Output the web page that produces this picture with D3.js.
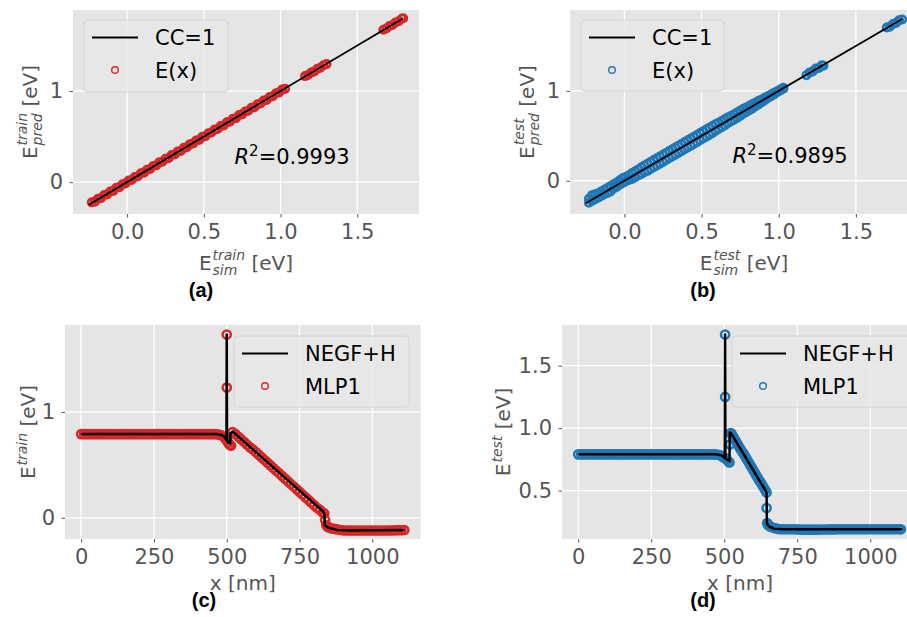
<!DOCTYPE html>
<html>
<head>
<meta charset="utf-8">
<script src="https://cdn.jsdelivr.net/npm/d3@7"></script>
<style>
  body { margin: 0; background: #fff; }
  svg { display: block; font-family: "DejaVu Sans", sans-serif; }
</style>
</head>
<body>
<div id="root"></div>
<script>
// ---- data ----
const trainSim = [-0.23,-0.21,-0.19,-0.17,-0.15,-0.13,-0.11,-0.09,-0.07,-0.05,-0.03,-0.01,0.01,0.03,0.05,0.07,0.09,0.11,0.13,0.15,0.17,0.19,0.21,0.23,0.25,0.27,0.29,0.31,0.33,0.35,0.37,0.39,0.41,0.43,0.45,0.47,0.49,0.51,0.53,0.55,0.57,0.59,0.61,0.63,0.65,0.67,0.69,0.71,0.73,0.75,0.77,0.79,0.81,0.83,0.85,0.87,0.89,0.91,0.93,0.95,0.97,0.99,1.01,1.03,1.16,1.18,1.2,1.22,1.24,1.26,1.28,1.3,1.67,1.69,1.71,1.73,1.75,1.77,1.79,1.8];
const trainPred = [-0.222,-0.216,-0.183,-0.176,-0.142,-0.136,-0.103,-0.096,-0.062,-0.057,-0.024,-0.016,0.018,0.024,0.057,0.064,0.097,0.104,0.137,0.144,0.177,0.184,0.217,0.224,0.257,0.263,0.297,0.304,0.337,0.343,0.377,0.384,0.417,0.424,0.456,0.464,0.497,0.503,0.537,0.544,0.577,0.583,0.617,0.623,0.657,0.663,0.697,0.703,0.737,0.744,0.776,0.784,0.817,0.823,0.856,0.864,0.896,0.903,0.936,0.944,0.976,0.983,1.016,1.024,1.164,1.176,1.204,1.216,1.244,1.256,1.284,1.296,1.674,1.686,1.714,1.726,1.754,1.766,1.794,1.8];

const testSim = [-0.23,-0.23,-0.21,-0.21,-0.19,-0.19,-0.17,-0.17,-0.15,-0.15,-0.13,-0.13,-0.11,-0.11,-0.09,-0.09,-0.07,-0.07,-0.05,-0.05,-0.03,-0.03,-0.01,-0.01,0.01,0.01,0.03,0.03,0.05,0.05,0.07,0.07,0.09,0.09,0.11,0.11,0.13,0.13,0.15,0.15,0.17,0.17,0.19,0.19,0.21,0.21,0.23,0.23,0.25,0.25,0.27,0.27,0.29,0.29,0.31,0.31,0.33,0.33,0.35,0.35,0.37,0.37,0.39,0.39,0.41,0.41,0.43,0.43,0.45,0.45,0.47,0.47,0.49,0.49,0.51,0.51,0.53,0.53,0.55,0.55,0.57,0.57,0.59,0.59,0.61,0.61,0.63,0.63,0.65,0.65,0.67,0.67,0.69,0.69,0.71,0.71,0.73,0.73,0.75,0.75,0.77,0.77,0.79,0.79,0.81,0.81,0.83,0.83,0.85,0.85,0.87,0.87,0.89,0.89,0.91,0.91,0.93,0.93,0.95,0.95,0.97,0.97,0.99,0.99,1.01,1.01,1.03,1.03,1.18,1.2,1.22,1.24,1.26,1.28,1.29,1.7,1.72,1.74,1.76,1.78,1.8];
const testPred = [-0.2,-0.245,-0.16,-0.225,-0.15,-0.205,-0.14,-0.19,-0.12,-0.17,-0.1,-0.15,-0.08,-0.135,-0.06,-0.12,-0.04,-0.085,-0.02,-0.07,0.005,-0.045,0.03,-0.025,0.045,-0.005,0.06,0.01,0.085,0.02,0.105,0.04,0.125,0.06,0.15,0.075,0.17,0.095,0.19,0.11,0.21,0.13,0.23,0.15,0.25,0.17,0.27,0.19,0.29,0.21,0.31,0.23,0.33,0.25,0.35,0.27,0.37,0.29,0.39,0.31,0.41,0.33,0.43,0.35,0.45,0.37,0.47,0.39,0.49,0.41,0.51,0.43,0.53,0.45,0.55,0.47,0.57,0.49,0.59,0.51,0.61,0.53,0.63,0.555,0.645,0.575,0.665,0.595,0.685,0.615,0.705,0.64,0.72,0.66,0.74,0.68,0.76,0.7,0.78,0.72,0.8,0.745,0.815,0.765,0.835,0.785,0.855,0.805,0.87,0.83,0.89,0.85,0.905,0.875,0.925,0.895,0.94,0.92,0.96,0.94,0.98,0.96,0.995,0.985,1.015,1.005,1.035,1.025,1.175,1.205,1.215,1.25,1.255,1.285,1.28,1.705,1.715,1.745,1.755,1.785,1.795];

const ccLine = [-0.25, 1.8];
const r2Train = "0.9993";
const r2Test = "0.9895";

// profile (c): NEGF+H line vertices and MLP1 predictions
const cLineX = [0,460,480,490,499,500,501,505,512,513,522,835,837,850,880,920,1110];
const cLineE = [0.79,0.79,0.785,0.77,0.735,1.73,0.73,0.71,0.70,0.80,0.81,0.05,-0.07,-0.095,-0.115,-0.12,-0.115];
const cX = [0,10,20,30,40,50,60,70,80,90,100,110,120,130,140,150,160,170,180,190,200,210,220,230,240,250,260,270,280,290,300,310,320,330,340,350,360,370,380,390,400,410,420,430,440,450,460,470,
  480,490,497,500,500,505,510,515,520,
  530,540,550,560,570,580,590,600,610,620,630,640,650,660,670,680,690,700,710,720,730,740,750,760,770,780,790,800,810,820,830,
  835,838,842,846,850,
  860,870,880,890,900,910,920,930,940,950,960,970,980,990,1000,1010,1020,1030,1040,1050,1060,1070,1080,1090,1100,1110];
const cPred = [0.79,0.79,0.79,0.79,0.79,0.79,0.79,0.79,0.79,0.79,0.79,0.79,0.79,0.79,0.79,0.79,0.79,0.79,0.79,0.79,0.79,0.79,0.79,0.79,0.79,0.79,0.79,0.79,0.79,0.79,0.79,0.79,0.79,0.79,0.79,0.79,0.79,0.79,0.79,0.79,0.79,0.79,0.79,0.79,0.79,0.79,0.79,0.787,
  0.78,0.765,0.74,1.73,1.23,0.71,0.69,0.68,0.81,
  0.79,0.765,0.74,0.715,0.69,0.665,0.645,0.62,0.595,0.57,0.545,0.52,0.495,0.47,0.445,0.42,0.395,0.37,0.345,0.32,0.295,0.27,0.245,0.22,0.195,0.17,0.145,0.12,0.095,0.075,0.05,
  0.04,-0.02,-0.07,-0.085,-0.09,
  -0.1,-0.105,-0.11,-0.115,-0.118,-0.12,-0.12,-0.12,-0.12,-0.12,-0.12,-0.12,-0.12,-0.12,-0.12,-0.12,-0.12,-0.12,-0.12,-0.12,-0.12,-0.118,-0.118,-0.117,-0.116,-0.115];

// profile (d)
const dLineX = [0,470,485,495,502,503,504,512,518,519,522,645,646,655,670,700,1110];
const dLineE = [0.79,0.79,0.785,0.775,0.76,1.75,0.76,0.745,0.735,0.965,0.965,0.485,0.235,0.21,0.195,0.19,0.19];
const dX = [0,10,20,30,40,50,60,70,80,90,100,110,120,130,140,150,160,170,180,190,200,210,220,230,240,250,260,270,280,290,300,310,320,330,340,350,360,370,380,390,400,410,420,430,440,450,460,470,
  480,490,497,503,503,505,510,515,518,520,522,
  525,530,535,540,545,550,555,560,565,570,575,580,585,590,595,600,605,610,615,620,625,630,635,640,
  645,645,647,650,655,660,670,680,
  690,700,710,720,730,740,750,760,770,780,790,800,810,820,830,840,850,860,870,880,890,900,910,920,930,940,950,960,970,980,990,1000,1010,1020,1030,1040,1050,1060,1070,1080,1090,1100,1105];
const dPred = [0.79,0.79,0.79,0.79,0.79,0.79,0.79,0.79,0.79,0.79,0.79,0.79,0.79,0.79,0.79,0.79,0.79,0.79,0.79,0.79,0.79,0.79,0.79,0.79,0.79,0.79,0.79,0.79,0.79,0.79,0.79,0.79,0.79,0.79,0.79,0.79,0.79,0.79,0.79,0.79,0.79,0.79,0.79,0.79,0.79,0.79,0.79,0.79,
  0.785,0.78,0.765,1.75,1.25,0.76,0.745,0.73,0.725,0.87,0.96,
  0.955,0.935,0.915,0.895,0.875,0.855,0.835,0.815,0.8,0.78,0.76,0.74,0.72,0.7,0.68,0.66,0.64,0.62,0.6,0.58,0.565,0.545,0.525,0.505,
  0.485,0.36,0.24,0.225,0.215,0.21,0.2,0.195,
  0.19,0.19,0.19,0.19,0.19,0.19,0.189,0.188,0.187,0.187,0.187,0.187,0.187,0.187,0.188,0.188,0.188,0.189,0.189,0.189,0.19,0.19,0.19,0.19,0.19,0.19,0.19,0.19,0.19,0.19,0.19,0.19,0.19,0.19,0.19,0.19,0.19,0.19,0.19,0.19,0.19,0.19,0.19];

const red = "#d62728";
const blue = "#1f77b4";

const width = 907;
const height = 617;

const svg = d3
  .select("#root")
  .append("svg")
  .attr("width", width)
  .attr("height", height);
const defs = svg.append("defs");

function styleAxis(sel) {
  sel.attr("font-size", null).attr("font-family", null);
  sel.select(".domain").remove();
  sel.selectAll(".tick line").attr("stroke", "#555").attr("stroke-width", 1);
  sel
    .selectAll(".tick text")
    .attr("fill", "#555")
    .style("font-size", "21px");
}

function drawFrame(id, rect, xScale, yScale, xTicks, yTicks, xFmt, yFmt) {
  const g = svg.append("g");
  g.append("rect")
    .attr("x", rect.left)
    .attr("y", rect.top)
    .attr("width", rect.right - rect.left)
    .attr("height", rect.bottom - rect.top)
    .attr("fill", "#e5e5e5");

  g.selectAll(".gx")
    .data(xTicks)
    .join("line")
    .attr("x1", (d) => xScale(d))
    .attr("x2", (d) => xScale(d))
    .attr("y1", rect.top)
    .attr("y2", rect.bottom)
    .attr("stroke", "#fff")
    .attr("stroke-width", 1.3);
  g.selectAll(".gy")
    .data(yTicks)
    .join("line")
    .attr("x1", rect.left)
    .attr("x2", rect.right)
    .attr("y1", (d) => yScale(d))
    .attr("y2", (d) => yScale(d))
    .attr("stroke", "#fff")
    .attr("stroke-width", 1.3);

  const bottomAxis = d3
    .axisBottom(xScale)
    .tickValues(xTicks)
    .tickFormat(xFmt)
    .tickSize(3.5)
    .tickPadding(6.5);
  g.append("g")
    .attr("transform", `translate(0, ${rect.bottom})`)
    .call(bottomAxis)
    .call(styleAxis);

  const leftAxis = d3
    .axisLeft(yScale)
    .tickValues(yTicks)
    .tickFormat(yFmt)
    .tickSize(3.5)
    .tickPadding(6.5);
  g.append("g")
    .attr("transform", `translate(${rect.left}, 0)`)
    .call(leftAxis)
    .call(styleAxis);

  defs
    .append("clipPath")
    .attr("id", `clip-${id}`)
    .append("rect")
    .attr("x", rect.left)
    .attr("y", rect.top)
    .attr("width", rect.right - rect.left)
    .attr("height", rect.bottom - rect.top);

  return svg.append("g").attr("clip-path", `url(#clip-${id})`);
}

// E with super/subscript, centred on (tx, ty)
function eLabel(tx, ty, rotate, sup, sub, tail) {
  const fs = 20;
  const outer = svg
    .append("g")
    .attr("transform", `translate(${tx}, ${ty}) rotate(${rotate})`);
  const g = outer.append("g").attr("fill", "#555").style("font-size", fs + "px");
  const base = g.append("text").text("E");
  const wE = base.node().getComputedTextLength() + 1;
  let wS = 0;
  if (sup) {
    const t = g
      .append("text")
      .attr("x", wE)
      .attr("y", sub ? -0.5 * fs : -0.4 * fs)
      .style("font-size", 0.7 * fs + "px")
      .style("font-style", "italic")
      .text(sup);
    wS = Math.max(wS, t.node().getComputedTextLength());
  }
  if (sub) {
    const t = g
      .append("text")
      .attr("x", wE)
      .attr("y", 0.25 * fs)
      .style("font-size", 0.7 * fs + "px")
      .style("font-style", "italic")
      .text(sub);
    wS = Math.max(wS, t.node().getComputedTextLength());
  }
  const tl = g.append("text").attr("x", wE + wS).text(tail);
  const total = wE + wS + tl.node().getComputedTextLength();
  g.attr("transform", `translate(${-total / 2}, 0)`);
}

function plainLabel(tx, ty, txt) {
  svg
    .append("text")
    .attr("x", tx)
    .attr("y", ty)
    .attr("text-anchor", "middle")
    .attr("fill", "#555")
    .style("font-size", "20px")
    .text(txt);
}

function panelTag(tx, ty, txt) {
  svg
    .append("text")
    .attr("x", tx)
    .attr("y", ty)
    .attr("text-anchor", "middle")
    .style("font-family", "'Liberation Sans', Arial, sans-serif")
    .style("font-weight", 700)
    .style("font-size", "20px")
    .text(txt);
}

function r2Text(tx, ty, val) {
  const t = svg
    .append("text")
    .attr("x", tx)
    .attr("y", ty)
    .style("font-size", "21px")
    .attr("fill", "#000");
  t.append("tspan").style("font-style", "italic").text("R");
  t.append("tspan").attr("dy", -8).style("font-size", "15px").text("2");
  t.append("tspan").attr("dy", 8).text("=" + val);
}

function drawLegend(box, lineLabel, markerLabel, color) {
  const g = svg.append("g");
  g.append("rect")
    .attr("x", box.x)
    .attr("y", box.y)
    .attr("width", box.w)
    .attr("height", box.h)
    .attr("rx", 4)
    .attr("fill", "#e8e8e8")
    .attr("fill-opacity", 0.85)
    .attr("stroke", "#d4d4d4")
    .attr("stroke-width", 1);
  const row1 = box.y + 17.5;
  const row2 = box.y + 50;
  g.append("line")
    .attr("x1", box.x + 8)
    .attr("x2", box.x + 54)
    .attr("y1", row1)
    .attr("y2", row1)
    .attr("stroke", "#000")
    .attr("stroke-width", 2);
  g.append("circle")
    .attr("cx", box.x + 31)
    .attr("cy", row2)
    .attr("r", 3.3)
    .attr("fill", "none")
    .attr("stroke", color)
    .attr("stroke-width", 1.4);
  g.selectAll(".lt")
    .data([
      [row1, lineLabel],
      [row2, markerLabel],
    ])
    .join("text")
    .attr("x", box.x + 71)
    .attr("y", (d) => d[0] + 7.5)
    .style("font-size", "21px")
    .attr("fill", "#000")
    .text((d) => d[1]);
}

function drawParity(id, rect, yDomain, sim, pred, color, tag, sup, r2, legendBox, tagX) {
  const xScale = d3.scaleLinear().domain([-0.3525, 1.9025]).range([rect.left, rect.right]);
  const yScale = d3.scaleLinear().domain(yDomain).range([rect.bottom, rect.top]);
  const plot = drawFrame(id, rect, xScale, yScale, [0, 0.5, 1, 1.5], [0, 1], d3.format(".1f"), d3.format("d"));

  plot
    .selectAll("circle")
    .data(d3.zip(sim, pred))
    .join("circle")
    .attr("cx", (d) => xScale(d[0]))
    .attr("cy", (d) => yScale(d[1]))
    .attr("r", 3.7)
    .attr("fill", "none")
    .attr("stroke", color)
    .attr("stroke-width", 2.6);

  plot
    .append("path")
    .datum(ccLine)
    .attr("d", d3.line().x((d) => xScale(d)).y((d) => yScale(d)))
    .attr("stroke", "#000")
    .attr("stroke-width", 1.8)
    .attr("fill", "none");

  r2Text(xScale(0.7), yScale(0.2), r2);
  drawLegend(legendBox, "CC=1", "E(x)", color);

  const cx = (rect.left + Math.min(rect.right, 918)) / 2;
  eLabel(cx, 270, 0, sup, "sim", "\u00a0[eV]");
  eLabel(rect.left - 36, (rect.top + rect.bottom) / 2, -90, sup, "pred", "\u00a0[eV]");
  panelTag(tagX, 297, tag);
}

function drawProfile(id, rect, yDomain, yTicks, yFmt, lineX, lineE, mX, mE, color, tag, sup, legendBox, tagX, yLabelX) {
  const xScale = d3.scaleLinear().domain([-55.5, 1165.5]).range([rect.left, rect.right]);
  const yScale = d3.scaleLinear().domain(yDomain).range([rect.bottom, rect.top]);
  const plot = drawFrame(id, rect, xScale, yScale, [0, 250, 500, 750, 1000], yTicks, d3.format("d"), yFmt);

  plot
    .selectAll("circle")
    .data(d3.zip(mX, mE))
    .join("circle")
    .attr("cx", (d) => xScale(d[0]))
    .attr("cy", (d) => yScale(d[1]))
    .attr("r", 4.1)
    .attr("fill", "none")
    .attr("stroke", color)
    .attr("stroke-width", 2.5);

  plot
    .append("path")
    .datum(d3.zip(lineX, lineE))
    .attr("d", d3.line().x((d) => xScale(d[0])).y((d) => yScale(d[1])))
    .attr("stroke", "#000")
    .attr("stroke-width", 2.5)
    .attr("stroke-linejoin", "round")
    .attr("fill", "none");

  drawLegend(legendBox, "NEGF+H", "MLP1", color);

  plainLabel((rect.left + Math.min(rect.right, 918)) / 2, 590, "x [nm]");
  eLabel(yLabelX, (rect.top + rect.bottom) / 2, -90, sup, null, "\u00a0[eV]");
  panelTag(tagX, 607, tag);
}

drawParity("a", { left: 73, top: 10, right: 419, bottom: 214 }, [-0.35, 1.89],
  trainSim, trainPred, red, "(a)", "train", r2Train, { x: 84, y: 20, w: 144, h: 72 }, 201);
drawParity("b", { left: 570, top: 10, right: 918, bottom: 214 }, [-0.37, 1.9],
  testSim, testPred, blue, "(b)", "test", r2Test, { x: 581, y: 20, w: 143, h: 71 }, 703);
drawProfile("c", { left: 65, top: 325, right: 420.5, bottom: 539 }, [-0.2, 1.82], [0, 1], d3.format("d"),
  cLineX, cLineE, cX, cPred, red, "(c)", "train", { x: 234, y: 336, w: 175, h: 71 }, 204, 35);
drawProfile("d", { left: 562, top: 325, right: 918.6, bottom: 539 }, [0.112, 1.826], [0.5, 1, 1.5], d3.format(".1f"),
  dLineX, dLineE, dX, dPred, blue, "(d)", "test", { x: 732, y: 336, w: 185, h: 71 }, 703, 510);
</script>
</body>
</html>
